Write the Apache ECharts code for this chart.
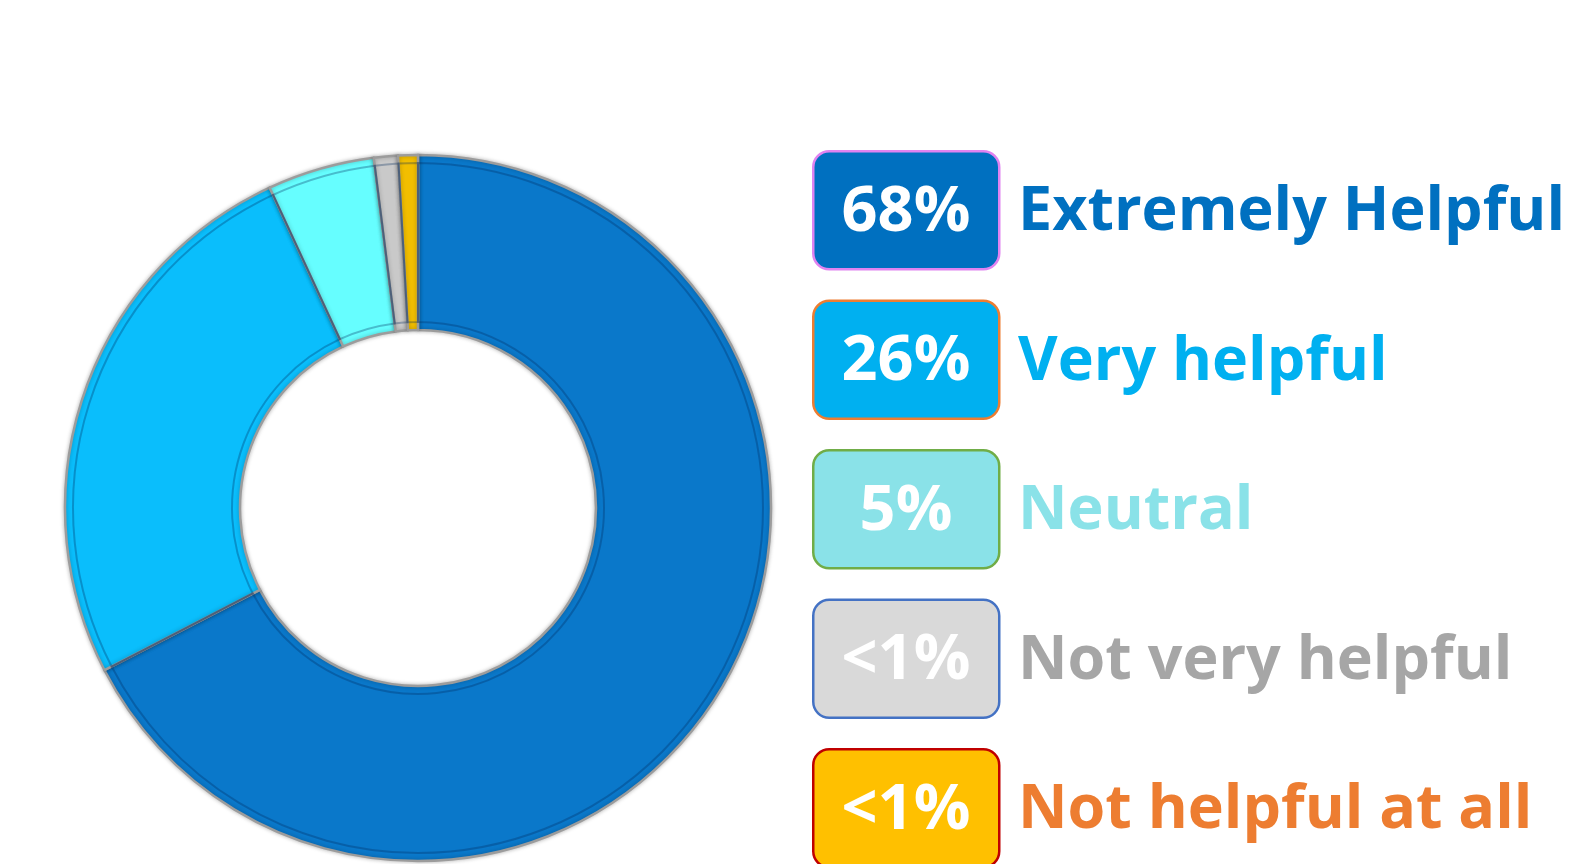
<!DOCTYPE html>
<html><head><meta charset="utf-8">
<script src="https://cdn.jsdelivr.net/npm/echarts@6/dist/echarts.min.js"></script>
<style>html,body{margin:0;padding:0;background:#fff}#c{width:1572px;height:864px}</style>
</head><body><div id="c"></div>
<script>
const categories = ['Extremely Helpful','Very helpful','Neutral','Not very helpful','Not helpful at all'];
const values = [67.4, 25.7, 4.9, 1.1, 0.9];
const pctLabels = ['68%','26%','5%','<1%','<1%'];
const sliceColors = ['#0A78CA','#0ABEFC','#66FEFF','#C9C9C9','#F2BE00'];
const boxColors = ['#0070C0','#00B0F0','#8AE2E8','#D9D9D9','#FFC000'];
const boxBorders = ['#E083F0','#ED7D31','#70AD47','#4472C4','#C00000'];
const nameColors = ['#0070C0','#00B0F0','#8AE2E8','#A6A6A6','#ED7D31'];

const chart = echarts.init(document.getElementById('c'));
const graphics = [];
const boxX = 812, boxW = 186, boxH = 118, top0 = 150, step = 149.5;
categories.forEach((name, i) => {
  const y = top0 + i * step;
  graphics.push({type:'rect', left: boxX, top: y, shape:{width: boxW, height: boxH, r: 16},
    style:{fill: boxColors[i], stroke: boxBorders[i], lineWidth: 2.5}});
  graphics.push({type:'text', x: boxX + boxW/2 + 1, y: y + boxH/2 + 4,
    style:{text: pctLabels[i], fill:'#fff', font:'bold 63px "Open Sans"', align:'center', verticalAlign:'middle'}});
  graphics.push({type:'text', x: 1018, y: y + boxH/2 + 4,
    style:{text: name, fill: nameColors[i], font:'bold 61px "Open Sans"', align:'left', verticalAlign:'middle'}});
});

chart.setOption({
  animation:false,
  backgroundColor:'#fff',
  graphic: graphics,
  series:[{
    type:'pie',
    center:[418,508],
    radius:[178,353],
    startAngle:90,
    clockwise:true,
    label:{show:false},
    labelLine:{show:false},
    emphasis:{disabled:true},
    itemStyle:{borderColor:'#9c9c9c', borderWidth:2.5, shadowColor:'rgba(0,0,0,0.25)', shadowBlur:4},
    data: categories.map((n,i)=>({name:n, value:values[i], itemStyle:{color:sliceColors[i]}}))
  },{
    type:'pie',
    center:[418,508],
    radius:[186,345],
    startAngle:90,
    clockwise:true,
    silent:true,
    label:{show:false},
    labelLine:{show:false},
    itemStyle:{color:'rgba(0,0,0,0)', borderColor:'rgba(0,40,90,0.3)', borderWidth:2},
    data: categories.map((n,i)=>({name:n, value:values[i]}))
  }]
});
</script></body></html>
